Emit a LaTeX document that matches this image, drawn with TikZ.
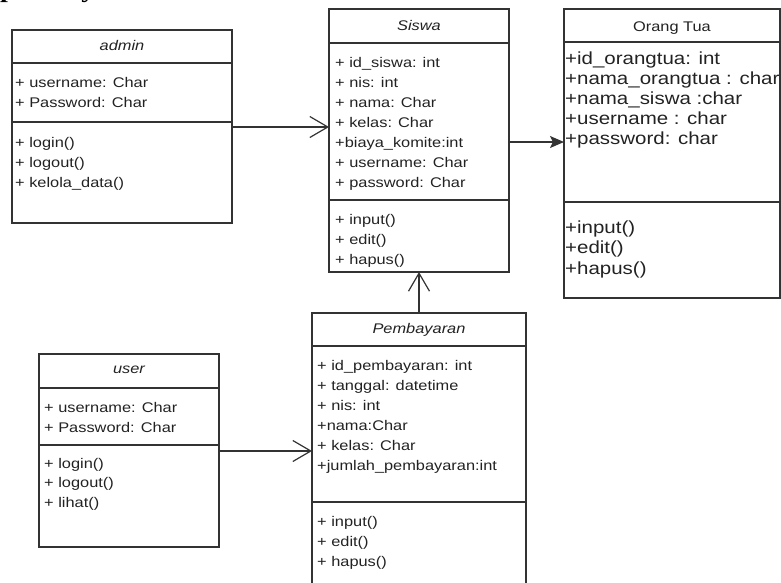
\documentclass[tikz,border=0pt]{standalone}
\usepackage{fontspec}
\setmainfont[FakeStretch=1.17]{Liberation Sans}
\newfontfamily\capfont[FakeStretch=1.17]{Liberation Serif}
\usetikzlibrary{arrows.meta}
\definecolor{linec}{HTML}{333333}
\definecolor{txtc}{HTML}{222222}
\tikzset{
 box/.style={draw=linec, line width=1.2pt, rectangle, anchor=north west, inner sep=0pt, outer sep=0pt},
 sep/.style={draw=linec, line width=1.2pt},
 txt/.style={text=txtc, font=\fontsize{14}{20}\selectfont, inner sep=0pt, anchor=base west},
 big/.style={text=txtc, font=\fontsize{17.5}{22}\selectfont, inner sep=0pt, anchor=base west},
 hdr/.style={text=txtc, font=\fontsize{14}{20}\selectfont\itshape, inner sep=0pt, anchor=base},
 assoc/.style={draw=linec, line width=1.2pt, -{Straight Barb[length=18pt,width=21pt]}},
 dirarrow/.style={draw=linec, line width=1.2pt, -{Stealth[length=14pt,width=12pt,inset=3pt]}},
}
\begin{document}
\begin{tikzpicture}[x=1pt,y=-1pt]
\useasboundingbox (0,0) rectangle (781,582);
\begin{scope}
\clip (0,0) rectangle (781,582);
% caption fragment
\node[anchor=base west, inner sep=0pt, text=black, font=\capfont\bfseries\fontsize{24}{28}\selectfont] (cap) at (0,-3) {pembayaran.};
% boxes
\node[box, minimum width=220pt, minimum height=193pt] (admin) at (12,30) {};
\node[box, minimum width=180pt, minimum height=263pt] (siswa) at (329,9) {};
\node[box, minimum width=216pt, minimum height=289pt] (orang) at (564,9) {};
\node[box, minimum width=180pt, minimum height=193pt] (user) at (39,354) {};
\node[box, minimum width=214pt, minimum height=300pt] (bayar) at (312,313) {};
% separators
\draw[sep] (admin.west |- 0,63) -- (admin.east |- 0,63);
\draw[sep] (admin.west |- 0,122) -- (admin.east |- 0,122);
\draw[sep] (siswa.west |- 0,43) -- (siswa.east |- 0,43);
\draw[sep] (siswa.west |- 0,200) -- (siswa.east |- 0,200);
\draw[sep] (orang.west |- 0,42) -- (orang.east |- 0,42);
\draw[sep] (orang.west |- 0,202) -- (orang.east |- 0,202);
\draw[sep] (user.west |- 0,388) -- (user.east |- 0,388);
\draw[sep] (user.west |- 0,445) -- (user.east |- 0,445);
\draw[sep] (bayar.west |- 0,346) -- (bayar.east |- 0,346);
\draw[sep] (bayar.west |- 0,502) -- (bayar.east |- 0,502);
% admin
\node[hdr] (adminH) at (122,50) {admin};
\foreach \t [count=\i from 0] in {+ username: Char, + Password: Char}
  \node[txt] (adminA\i) at (15,87+20*\i) {\t};
\foreach \t [count=\i from 0] in {+ login(), + logout(), + kelola\_data()}
  \node[txt] (adminM\i) at (15,147+20*\i) {\t};
% siswa
\node[hdr] (siswaH) at (419,30) {Siswa};
\foreach \t [count=\i from 0] in {+ id\_siswa: int, + nis: int, + nama: Char, + kelas: Char, +biaya\_komite:int, + username: Char, + password: Char}
  \node[txt] (siswaA\i) at (335,67+20*\i) {\t};
\foreach \t [count=\i from 0] in {+ input(), + edit(), + hapus()}
  \node[txt] (siswaM\i) at (335,224+20*\i) {\t};
% orang tua
\node[hdr, font=\fontsize{14}{20}\selectfont] (orangH) at (672,31) {Orang Tua};
\foreach \t [count=\i from 0] in {+id\_orangtua: int, +nama\_orangtua : char, +nama\_siswa :char, +username : char, +password: char}
  \node[big] (orangA\i) at (565,64+20*\i) {\t};
\foreach \t [count=\i from 0] in {+input(), +edit(), +hapus()}
  \node[big] (orangM\i) at (565,233+20.5*\i) {\t};
% user
\node[hdr] (userH) at (129,373) {user};
\foreach \t [count=\i from 0] in {+ username: Char, + Password: Char}
  \node[txt] (userA\i) at (44,412+20*\i) {\t};
\foreach \t [count=\i from 0] in {+ login(), + logout(), + lihat()}
  \node[txt] (userM\i) at (44,468+19.5*\i) {\t};
% pembayaran
\node[hdr] (bayarH) at (419,333) {Pembayaran};
\foreach \t [count=\i from 0] in {+ id\_pembayaran: int, + tanggal: datetime, + nis: int, +nama:Char, + kelas: Char, +jumlah\_pembayaran:int}
  \node[txt] (bayarA\i) at (317,370+20*\i) {\t};
\foreach \t [count=\i from 0] in {+ input(), + edit(), + hapus()}
  \node[txt] (bayarM\i) at (317,526+20*\i) {\t};
% connectors
\draw[assoc] (admin.east |- 0,127) -- (siswa.west |- 0,127);
\draw[dirarrow] (siswa.east |- 0,142) -- (orang.west |- 0,142);
\draw[assoc] (user.east |- 0,451) -- (bayar.west |- 0,451);
\draw[assoc] (bayar.north) -- (siswa.south);
\end{scope}
\end{tikzpicture}
\end{document}
